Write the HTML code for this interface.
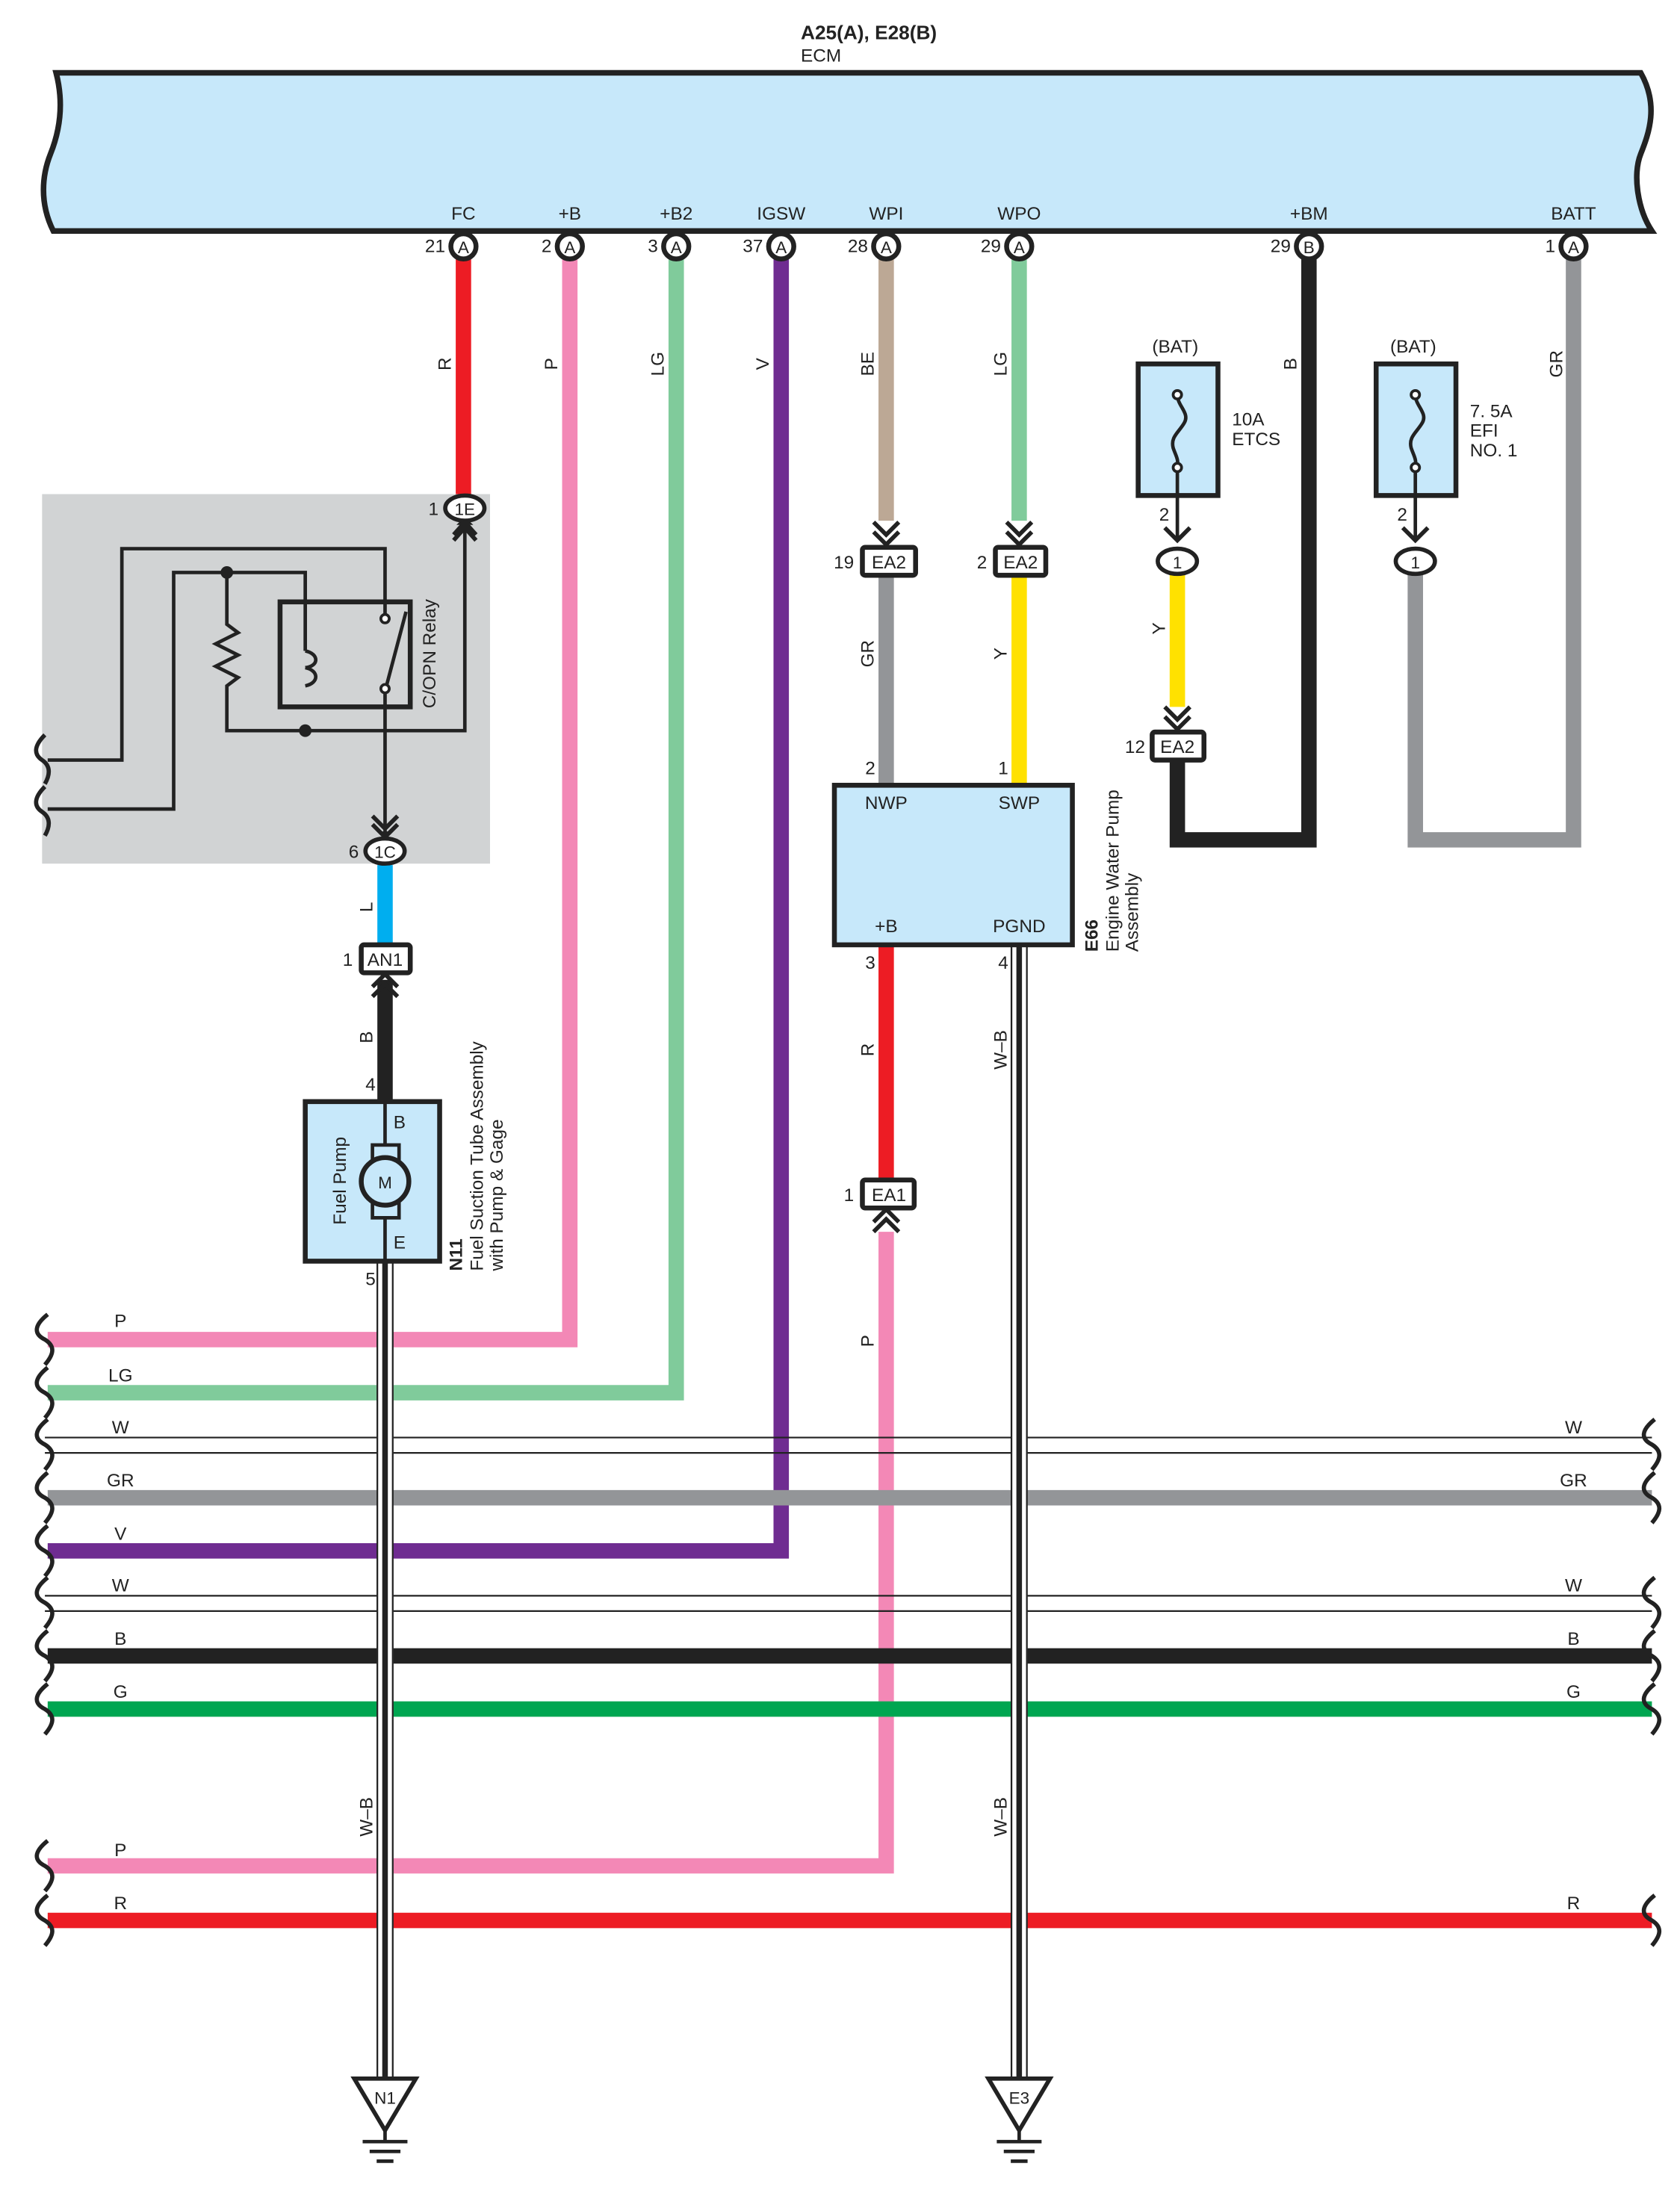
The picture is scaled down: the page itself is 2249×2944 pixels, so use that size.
<!DOCTYPE html>
<html><head><meta charset="utf-8"><style>html,body{margin:0;padding:0;background:#fff}svg{display:block}text{font-family:"Liberation Sans",sans-serif;fill:#222}</style></head><body>
<svg width="2249" height="2944" viewBox="0 0 1200 1571" xmlns="http://www.w3.org/2000/svg">
<rect width="1200" height="1571" fill="#fff"/>
<!-- ECM -->
<text x="572" y="28" font-size="14" font-weight="bold">A25(A), E28(B)</text>
<text x="572" y="44" font-size="13">ECM</text>
<path d="M40,52 L1172,52 C1185,75 1178,95 1172,110 C1166,125 1170,150 1180,165 L38,165 C28,145 30,125 36,110 C42,95 46,75 40,52 Z" fill="#c7e8fa" stroke="#222" stroke-width="4"/>
<g font-size="13" text-anchor="middle">
<text x="331" y="157">FC</text><text x="407" y="157">+B</text><text x="483" y="157">+B2</text><text x="558" y="157">IGSW</text><text x="633" y="157">WPI</text><text x="728" y="157">WPO</text><text x="935" y="157">+BM</text><text x="1124" y="157">BATT</text>
</g>
<!-- wires top -->
<g fill="none" stroke-width="11">
<path d="M331,185 V355" stroke="#ed1c24"/>
<path d="M407,185 V957 H34" stroke="#f388b6"/>
<path d="M483,185 V995 H34" stroke="#80cb9b"/>
<path d="M558,185 V1108 H34" stroke="#6f2c91"/>
<path d="M633,185 V372" stroke="#bca895"/>
<path d="M633,410 V560" stroke="#939598"/>
<path d="M728,185 V372" stroke="#80cb9b"/>
<path d="M728,410 V560" stroke="#ffe100"/>
<path d="M841,410 V505" stroke="#ffe100"/>
<path d="M841,542 V600 H935 V185" stroke="#222"/>
<path d="M1011,410 V600 H1124 V185" stroke="#939598"/>
<path d="M633,675 V843" stroke="#ed1c24"/>
<path d="M633,880 V1333 H34" stroke="#f388b6"/>
<path d="M275,618 V675" stroke="#00aeef"/>
<path d="M275,700 V787" stroke="#222"/>
<path d="M34,1070 H1180" stroke="#939598"/>
<path d="M34,1183 H1180" stroke="#222"/>
<path d="M34,1221 H1180" stroke="#00a651"/>
<path d="M34,1372 H1180" stroke="#ed1c24"/>
</g>
<g stroke="#222" stroke-width="1.2">
<path d="M32,1027 H1180 M32,1038 H1180 M32,1140 H1180 M32,1151 H1180"/>
</g>
<!-- W-B verticals -->
<g>
<rect x="269" y="901" width="12" height="586" fill="#fff"/>
<path d="M269.5,901 V1487 M280.5,901 V1487" stroke="#222" stroke-width="1.2"/>
<path d="M275,901 V1487" stroke="#222" stroke-width="4"/>
<rect x="722" y="675" width="12" height="812" fill="#fff"/>
<path d="M722.5,675 V1487 M733.5,675 V1487" stroke="#222" stroke-width="1.2"/>
<path d="M728,675 V1487" stroke="#222" stroke-width="4"/>
</g>
<!-- wavy ends -->
<g fill="none" stroke="#222" stroke-width="3">
<path d="M34,939 C24,947 24,953 32,957 C40,962 38,968 32,975 M34,977 C24,985 24,991 32,995 C40,1000 38,1006 32,1013 M34,1014 C24,1022 24,1028 32,1032 C40,1037 38,1043 32,1050 M34,1052 C24,1060 24,1066 32,1070 C40,1075 38,1081 32,1088 M34,1090 C24,1098 24,1104 32,1108 C40,1113 38,1119 32,1126 M34,1127 C24,1135 24,1141 32,1145 C40,1150 38,1156 32,1163 M34,1165 C24,1173 24,1179 32,1183 C40,1188 38,1194 32,1201 M34,1203 C24,1211 24,1217 32,1221 C40,1226 38,1232 32,1239 M34,1315 C24,1323 24,1329 32,1333 C40,1338 38,1344 32,1351 M34,1354 C24,1362 24,1368 32,1372 C40,1377 38,1383 32,1390"/>
<path d="M1182,1014 C1172,1022 1172,1028 1180,1032 C1188,1037 1186,1043 1180,1050 M1182,1052 C1172,1060 1172,1066 1180,1070 C1188,1075 1186,1081 1180,1088 M1182,1127 C1172,1135 1172,1141 1180,1145 C1188,1150 1186,1156 1180,1163 M1182,1165 C1172,1173 1172,1179 1180,1183 C1188,1188 1186,1194 1180,1201 M1182,1203 C1172,1211 1172,1217 1180,1221 C1188,1226 1186,1232 1180,1239 M1182,1354 C1172,1362 1172,1368 1180,1372 C1188,1377 1186,1383 1180,1390"/>
</g>
<g font-size="13" text-anchor="middle">
<text x="86" y="948">P</text><text x="86" y="987">LG</text><text x="86" y="1024">W</text><text x="86" y="1062">GR</text><text x="86" y="1100">V</text><text x="86" y="1137">W</text><text x="86" y="1175">B</text><text x="86" y="1213">G</text><text x="86" y="1326">P</text><text x="86" y="1364">R</text>
<text x="1124" y="1024">W</text><text x="1124" y="1062">GR</text><text x="1124" y="1137">W</text><text x="1124" y="1175">B</text><text x="1124" y="1213">G</text><text x="1124" y="1364">R</text>
</g>
<!-- vertical wire labels -->
<g font-size="13" text-anchor="middle">
<text transform="translate(322,260) rotate(-90)">R</text>
<text transform="translate(398,260) rotate(-90)">P</text>
<text transform="translate(474,260) rotate(-90)">LG</text>
<text transform="translate(549,260) rotate(-90)">V</text>
<text transform="translate(624,260) rotate(-90)">BE</text>
<text transform="translate(719,260) rotate(-90)">LG</text>
<text transform="translate(926,260) rotate(-90)">B</text>
<text transform="translate(1116,260) rotate(-90)">GR</text>
<text transform="translate(624,467) rotate(-90)">GR</text>
<text transform="translate(719,467) rotate(-90)">Y</text>
<text transform="translate(832,449) rotate(-90)">Y</text>
<text transform="translate(266,648) rotate(-90)">L</text>
<text transform="translate(266,741) rotate(-90)">B</text>
<text transform="translate(624,750) rotate(-90)">R</text>
<text transform="translate(719,750) rotate(-90)">W–B</text>
<text transform="translate(624,958) rotate(-90)">P</text>
<text transform="translate(266,1298) rotate(-90)">W–B</text>
<text transform="translate(719,1298) rotate(-90)">W–B</text>
</g>
<!-- pin circles -->
<g>
<g stroke="#222" stroke-width="3.5" fill="#fff">
<circle cx="331" cy="176" r="9"/><circle cx="407" cy="176" r="9"/><circle cx="483" cy="176" r="9"/><circle cx="558" cy="176" r="9"/><circle cx="633" cy="176" r="9"/><circle cx="728" cy="176" r="9"/><circle cx="935" cy="176" r="9"/><circle cx="1124" cy="176" r="9"/>
</g>
<g font-size="12" text-anchor="middle">
<text x="331" y="181">A</text><text x="407" y="181">A</text><text x="483" y="181">A</text><text x="558" y="181">A</text><text x="633" y="181">A</text><text x="728" y="181">A</text><text x="935" y="181">B</text><text x="1124" y="181">A</text>
</g>
<g font-size="13" text-anchor="end">
<text x="318" y="180">21</text><text x="394" y="180">2</text><text x="470" y="180">3</text><text x="545" y="180">37</text><text x="620" y="180">28</text><text x="715" y="180">29</text><text x="922" y="180">29</text><text x="1111" y="180">1</text>
</g>
</g>
<!-- chevrons -->
<g fill="none" stroke="#222" stroke-width="3">
<path d="M624,373 L633,382 L642,373 M624,380 L633,389 L642,380"/>
<path d="M719,373 L728,382 L737,373 M719,380 L728,389 L737,380"/>
<path d="M832,505 L841,514 L850,505 M832,512 L841,521 L850,512"/>
<path d="M624,880 L633,871 L642,880 M624,873 L633,864 L642,873"/>
<path d="M266,712 L275,703 L284,712 M266,705 L275,696 L284,705"/>
</g>
<!-- connector boxes -->
<g stroke="#222" stroke-width="3.5" fill="#fff">
<rect x="616" y="391" width="38" height="20" rx="2"/>
<rect x="711" y="391" width="36" height="20" rx="2"/>
<rect x="823" y="523" width="37" height="20" rx="2"/>
<rect x="616" y="843" width="37" height="20" rx="2"/>
<rect x="258" y="675" width="35" height="20" rx="2"/>
</g>
<g font-size="13" text-anchor="middle">
<text x="635" y="406">EA2</text><text x="729" y="406">EA2</text><text x="841" y="538">EA2</text><text x="635" y="858">EA1</text><text x="275" y="690">AN1</text>
</g>
<g font-size="13" text-anchor="end">
<text x="610" y="406">19</text><text x="705" y="406">2</text><text x="818" y="538">12</text><text x="610" y="858">1</text><text x="252" y="690">1</text>
</g>
<!-- fuses -->
<g stroke="#222" stroke-width="3.5" fill="#c7e8fa">
<rect x="813" y="260" width="57" height="94"/>
<rect x="983" y="260" width="57" height="94"/>
</g>
<g fill="none" stroke="#222" stroke-width="2.5">
<path d="M841,282 C841,290 850,295 846,302 C842,309 836,312 838,320 C840,326 842,328 841,334 V385"/>
<path d="M1011,282 C1011,290 1020,295 1016,302 C1012,309 1006,312 1008,320 C1010,326 1012,328 1011,334 V385"/>
<path d="M832,377 L841,386 L850,377" stroke-width="3"/>
<path d="M1002,377 L1011,386 L1020,377" stroke-width="3"/>
</g>
<circle cx="841" cy="282" r="3" fill="#fff" stroke="#222" stroke-width="2"/><circle cx="841" cy="334" r="3" fill="#fff" stroke="#222" stroke-width="2"/>
<circle cx="1011" cy="282" r="3" fill="#fff" stroke="#222" stroke-width="2"/><circle cx="1011" cy="334" r="3" fill="#fff" stroke="#222" stroke-width="2"/>
<g stroke="#222" stroke-width="3" fill="#fff"><ellipse cx="841" cy="401" rx="14" ry="9"/><ellipse cx="1011" cy="401" rx="14" ry="9"/></g>
<g font-size="12" text-anchor="middle"><text x="841" y="406">1</text><text x="1011" y="406">1</text></g>
<g font-size="13">
<text x="823" y="252">(BAT)</text><text x="993" y="252">(BAT)</text>
<text x="880" y="304">10A</text><text x="880" y="318">ETCS</text>
<text x="1050" y="298">7. 5A</text><text x="1050" y="312">EFI</text><text x="1050" y="326">NO. 1</text>
<text x="828" y="372">2</text><text x="998" y="372">2</text>
</g>
<!-- water pump -->
<rect x="596" y="561" width="170" height="114" fill="#c7e8fa" stroke="#222" stroke-width="3.5"/>
<g font-size="13" text-anchor="middle">
<text x="633" y="578">NWP</text><text x="728" y="578">SWP</text><text x="633" y="666">+B</text><text x="728" y="666">PGND</text>
</g>
<g font-size="13"><text x="618" y="553">2</text><text x="713" y="553">1</text><text x="618" y="692">3</text><text x="713" y="692">4</text></g>
<text transform="translate(784,680) rotate(-90)" font-size="13" font-weight="bold">E66</text>
<text transform="translate(799,680) rotate(-90)" font-size="13">Engine Water Pump</text>
<text transform="translate(813,680) rotate(-90)" font-size="13">Assembly</text>
<!-- relay area -->
<rect x="30" y="353" width="320" height="264" fill="#d1d3d4"/>
<g fill="none" stroke="#222" stroke-width="2.5">
<path d="M34,543 H87 V392 H275 V440"/>
<path d="M34,578 H124 V409 H218 V465"/>
<path d="M162,409 V446 L170,452 L154,460 L170,468 L154,476 L170,484 L162,490 V522 H332 V372"/>
<path d="M218,465 C228,467 228,476 218,477 M218,477 C228,479 228,488 218,490"/>
<path d="M275,492 V595"/>
<path d="M276,490 L290,437"/>
</g>
<rect x="200" y="430" width="93" height="75" fill="none" stroke="#222" stroke-width="3.5"/>
<circle cx="162" cy="409" r="4.5" fill="#222"/><circle cx="218" cy="522" r="4.5" fill="#222"/>
<circle cx="275" cy="442" r="3" fill="#fff" stroke="#222" stroke-width="2"/><circle cx="275" cy="492" r="3" fill="#fff" stroke="#222" stroke-width="2"/>
<g fill="none" stroke="#222" stroke-width="3">
<path d="M32,525 C24,533 24,539 30,543 C36,547 36,553 32,560 M32,562 C24,570 24,576 30,580 C36,584 36,590 32,597"/>
<path d="M324,386 L332,377 L340,386 M324,382 L332,373 L340,382"/>
<path d="M266,583 L275,592 L284,583 M266,589 L275,598 L284,589"/>
</g>
<path d="M326,375 L332,369 L338,375 Z M269,594 L275,600 L281,594 Z" fill="#222"/>
<text transform="translate(311,506) rotate(-90)" font-size="13">C/OPN Relay</text>
<g stroke="#222" stroke-width="3" fill="#fff"><ellipse cx="332" cy="363" rx="14" ry="9"/><ellipse cx="275" cy="608" rx="14" ry="9"/></g>
<g font-size="12" text-anchor="middle"><text x="332" y="368">1E</text><text x="275" y="613">1C</text></g>
<g font-size="13"><text x="306" y="368">1</text><text x="249" y="613">6</text></g>
<!-- fuel pump -->
<rect x="218" y="787" width="96" height="114" fill="#c7e8fa" stroke="#222" stroke-width="3.5"/>
<path d="M275,787 V901" stroke="#222" stroke-width="2.5"/>
<rect x="266" y="818" width="19" height="52" fill="#c7e8fa" stroke="#222" stroke-width="2.5"/>
<circle cx="275" cy="844" r="17" fill="#c7e8fa" stroke="#222" stroke-width="3.5"/>
<text x="275" y="849" font-size="12" text-anchor="middle">M</text>
<text x="281" y="806" font-size="13">B</text><text x="281" y="892" font-size="13">E</text>
<text transform="translate(247,875) rotate(-90)" font-size="13">Fuel Pump</text>
<text x="261" y="779" font-size="13">4</text><text x="261" y="918" font-size="13">5</text>
<text transform="translate(330,908) rotate(-90)" font-size="13" font-weight="bold">N11</text>
<text transform="translate(345,908) rotate(-90)" font-size="13">Fuel Suction Tube Assembly</text>
<text transform="translate(359,908) rotate(-90)" font-size="13">with Pump &amp; Gage</text>
<!-- grounds -->
<g fill="#fff" stroke="#222" stroke-width="3">
<path d="M253,1485 H297 L275,1522 Z"/><path d="M706,1485 H750 L728,1522 Z"/>
</g>
<g stroke="#222" stroke-width="2.5">
<path d="M275,1522 V1530 M259,1530 H291 M264,1537 H286 M269,1544 H281"/>
<path d="M728,1522 V1530 M712,1530 H744 M717,1537 H739 M722,1544 H734"/>
</g>
<g font-size="12" text-anchor="middle"><text x="275" y="1503">N1</text><text x="728" y="1503">E3</text></g>
</svg>
</body></html>
